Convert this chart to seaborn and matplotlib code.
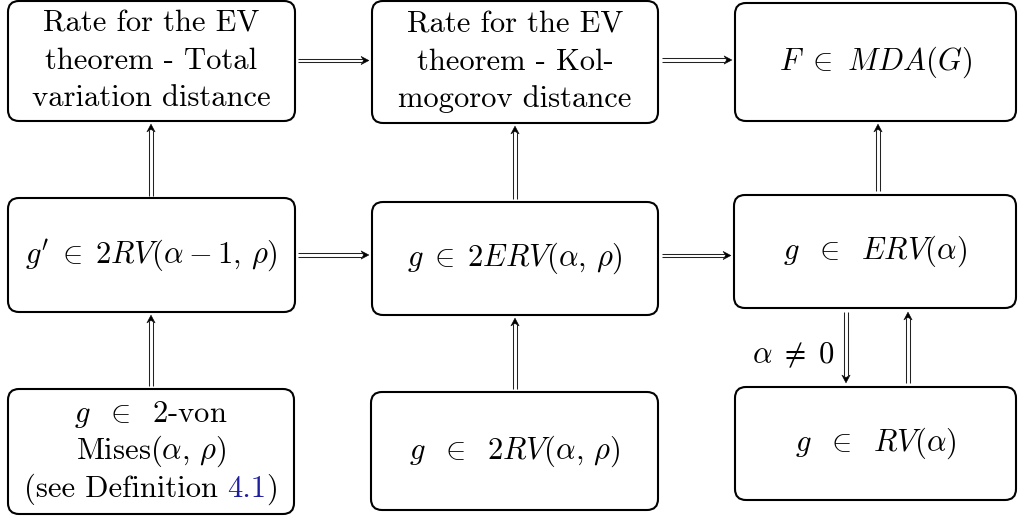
import numpy as np
import seaborn as sns
import matplotlib.pyplot as plt
from matplotlib.patches import FancyBboxPatch, Polygon

# Тексты блоков (строки внутри блока, '|' разделяет цветные куски)
labels = [
    ["Rate for the EV", "theorem - Total", "variation distance"],
    ["Rate for the EV", "theorem - Kol-", "mogorov distance"],
    [r"$F\ \in\ MDA(G)$"],
    [r"$g' \;\in\; 2RV(\alpha-1,\,\rho)$"],
    [r"$g \;\in\; 2ERV(\alpha,\,\rho)$"],
    [r"$g\ \;\in\ \;ERV(\alpha)$"],
    [r"$g\ \;\in\ \;$2-von", r"Mises$(\alpha,\,\rho)$", "(see Definition |4.1|)"],
    [r"$g\ \;\in\ \;2RV(\alpha,\,\rho)$"],
    [r"$g\ \;\in\ \;RV(\alpha)$"],
]

# Рамки блоков: left, top, right, bottom (в пикселях)
box_left = [8, 372, 735, 8, 372, 734, 8, 371, 735]
box_top = [1, 1, 3, 198, 202, 195, 389, 392, 387]
box_right = [295, 658, 1016, 295, 658, 1016, 294, 658, 1016]
box_bottom = [121, 123, 121, 312, 315, 308, 514, 510, 500]

# Стрелки: откуда -> куда (x0, y0, x1, y1)
arrows = [
    (298, 60.5, 369, 60.5),
    (662, 60, 732, 60),
    (298, 255, 369, 255),
    (662, 255.5, 731, 255.5),
    (151, 196, 151, 124),
    (151, 386, 151, 315),
    (515, 199, 515, 126),
    (515, 389, 515, 318),
    (878, 191, 878, 124),
    (846, 312, 846, 383),
    (908, 383, 908, 312),
]
arrow_label = r"$\alpha \;\neq\; 0$"
arrow_label_pos = (793, 355)

sns.set_theme(style="white")
plt.rcParams["font.family"] = "cmr10"
plt.rcParams["mathtext.fontset"] = "cm"
plt.rcParams["axes.unicode_minus"] = False
plt.rcParams["text.color"] = "black"

FS = 22
LINE_PITCH = 37.5
LINK_COLOR = "#1f1f9e"

fig = plt.figure(figsize=(10.18, 5.18), dpi=100)
ax = fig.add_axes([0, 0, 1, 1])
ax.set_xlim(0, 1018)
ax.set_ylim(518, 0)
ax.axis("off")


def double_arrow(x0, y0, x1, y1, gap=1.6, head_len=8, head_w=4.2):
    p0 = np.array([x0, y0], float)
    p1 = np.array([x1, y1], float)
    d = (p1 - p0) / np.linalg.norm(p1 - p0)
    n = np.array([-d[1], d[0]])
    end = p1 - d * (head_len - 2)
    for s in (-1, 1):
        a = p0 + n * gap * s
        b = end + n * gap * s
        ax.plot([a[0], b[0]], [a[1], b[1]], color="#222222", lw=0.75,
                solid_capstyle="butt")
    head = [p1, p1 - d * head_len + n * head_w, p1 - d * (head_len - 2.5),
            p1 - d * head_len - n * head_w]
    ax.add_patch(Polygon(head, closed=True, color="black", lw=0.3))


for i, lines in enumerate(labels):
    l, t, r, b = box_left[i], box_top[i], box_right[i], box_bottom[i]
    ax.add_patch(FancyBboxPatch((l, t), r - l, b - t,
                                boxstyle="round,pad=0,rounding_size=11",
                                fc="white", ec="black", lw=1.5))
    cx = (l + r) / 2
    cy = (t + b) / 2
    n = len(lines)
    for k, line in enumerate(lines):
        y = cy + (k - (n - 1) / 2) * LINE_PITCH
        if "|" not in line:
            ax.text(cx, y, line, ha="center", va="center", fontsize=FS)
            continue
        # строка с цветной ссылкой
        segs = line.split("|")
        renderer = fig.canvas.get_renderer()
        texts = []
        for j, seg in enumerate(segs):
            if not seg:
                continue
            col = LINK_COLOR if j % 2 == 1 else "black"
            txt = ax.text(0, y, seg, ha="left", va="center", fontsize=FS,
                          color=col)
            texts.append(txt)
        widths = [tx.get_window_extent(renderer).width for tx in texts]
        x = cx - sum(widths) / 2
        for j, tx in enumerate(texts):
            tx.set_x(x)
            x += widths[j]

for a in arrows:
    double_arrow(*a)

ax.text(*arrow_label_pos, arrow_label, ha="center", va="center", fontsize=FS)

fig.savefig("out.png", dpi=100, facecolor="white")
